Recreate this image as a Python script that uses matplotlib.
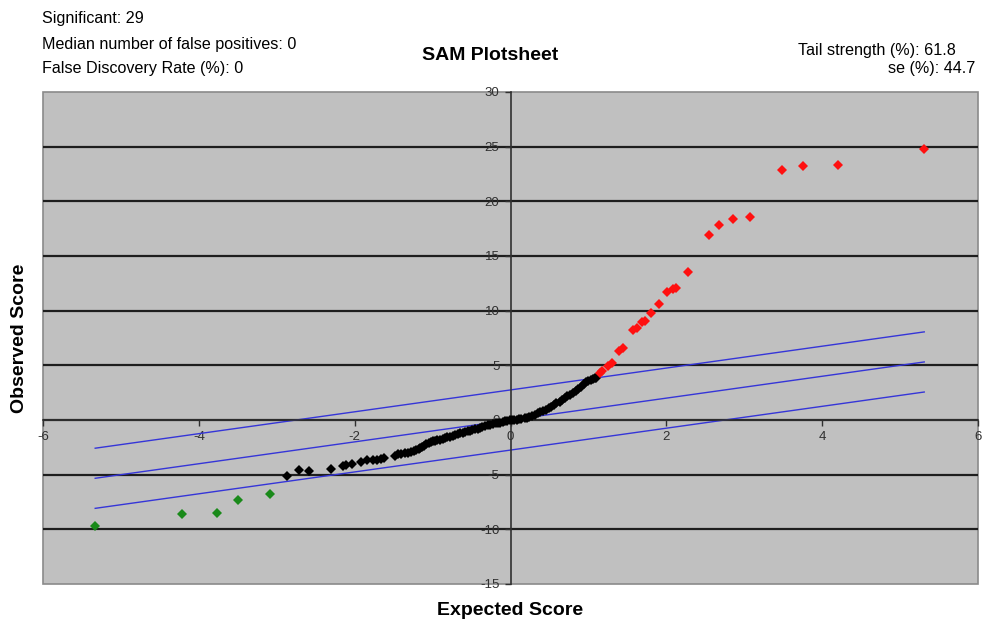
import matplotlib
matplotlib.use("Agg")
import matplotlib.pyplot as plt
from matplotlib.patches import Rectangle

plt.rcParams['font.family'] = ['Liberation Sans', 'DejaVu Sans']
plt.rcParams['axes.unicode_minus'] = False

# non-significant genes (expected, observed)
black_x = [-2.87, -2.71, -2.59, -2.30, -2.15, -2.11, -2.04, -1.92, -1.84, -1.77,
           -1.71, -1.66, -1.62, -1.48, -1.45, -1.41, -1.36, -1.32, -1.28, -1.24,
           -1.21, -1.18, -1.16, -1.13, -1.11, -1.08, -1.05, -1.02, -1.00, -0.97,
           -0.94, -0.91, -0.87, -0.84, -0.81, -0.78, -0.74, -0.71, -0.68, -0.65,
           -0.61, -0.58, -0.55, -0.52, -0.49, -0.46, -0.42, -0.39, -0.36, -0.33,
           -0.29, -0.26, -0.23, -0.19, -0.16, -0.13, -0.10, -0.07, -0.04, -0.01,
           0.02, 0.05, 0.08, 0.11, 0.14, 0.18, 0.21, 0.24, 0.28, 0.31,
           0.35, 0.38, 0.42, 0.45, 0.49, 0.52, 0.56, 0.59, 0.63, 0.66,
           0.70, 0.73, 0.77, 0.80, 0.84, 0.87, 0.91, 0.94, 0.97, 1.00,
           1.03, 1.06, 1.08, 1.10]
black_y = [-5.15, -4.6, -4.65, -4.5, -4.2, -4.1, -4.0, -3.8, -3.7, -3.7,
           -3.65, -3.6, -3.5, -3.25, -3.15, -3.1, -3.05, -3.0, -2.9, -2.8,
           -2.75, -2.65, -2.6, -2.45, -2.35, -2.2, -2.1, -2.0, -1.95, -1.9,
           -1.85, -1.8, -1.75, -1.68, -1.6, -1.52, -1.45, -1.38, -1.3, -1.22,
           -1.15, -1.1, -1.05, -0.97, -0.9, -0.85, -0.8, -0.7, -0.62, -0.56,
           -0.5, -0.44, -0.38, -0.32, -0.27, -0.23, -0.18, -0.13, -0.08, -0.03,
           0.0, 0.02, 0.04, 0.06, 0.1, 0.15, 0.2, 0.26, 0.38, 0.48,
           0.6, 0.7, 0.83, 0.95, 1.08, 1.2, 1.38, 1.52, 1.68, 1.82,
           2.0, 2.15, 2.33, 2.48, 2.65, 2.8, 3.0, 3.25, 3.45, 3.6,
           3.7, 3.78, 3.82, 3.85]

# significant positive genes
red_x = [1.15, 1.18, 1.25, 1.30, 1.39, 1.44, 1.57, 1.62, 1.69, 1.73, 1.80, 1.90,
         2.01, 2.08, 2.12, 2.28, 2.55, 2.68, 2.85, 3.07, 3.48, 3.75, 4.20, 5.31]
red_y = [4.3, 4.5, 4.9, 5.2, 6.3, 6.6, 8.2, 8.4, 9.0, 9.1, 9.8, 10.6,
         11.7, 12.0, 12.1, 13.5, 16.9, 17.8, 18.4, 18.6, 22.9, 23.2, 23.3, 24.8]

# significant negative genes
green_x = [-5.33, -4.22, -3.77, -3.50, -3.09]
green_y = [-9.67, -8.6, -8.5, -7.3, -6.8]

delta = 2.75
line_x = [-5.33, 5.31]

x_ticks = [-6, -4, -2, 0, 2, 4, 6]
y_ticks = [-15, -10, -5, 0, 5, 10, 15, 20, 25, 30]

W, H = 983, 622
fig = plt.figure(figsize=(W / 100, H / 100), dpi=100)
ax = fig.add_axes([43 / W, 1 - 584 / H, (978 - 43) / W, (584 - 92) / H])
ax.set_facecolor('#c0c0c0')
ax.set_xlim(-6, 6)
ax.set_ylim(-15, 30)

for yv in y_ticks[1:-1]:
    ax.axhline(yv, color='#1e1e1e', lw=1.6, zorder=1)

for off in (delta, 0, -delta):
    ax.plot(line_x, [v + off for v in line_x], color='#3535d8', lw=1.0, zorder=2)

ax.plot(black_x, black_y, 'D', color='black', ms=5, mew=0, zorder=3)
ax.plot(red_x, red_y, 'D', color='#ff1010', ms=5, mew=0, zorder=3)
ax.plot(green_x, green_y, 'D', color='#1a8a1a', ms=5, mew=0, zorder=3)

ax.spines['left'].set_position(('data', 0))
ax.spines['bottom'].set_position(('data', 0))
for s in ('left', 'bottom'):
    ax.spines[s].set_color('#303030')
    ax.spines[s].set_linewidth(1.2)
for s in ('top', 'right'):
    ax.spines[s].set_visible(False)
ax.add_patch(Rectangle((0, 0), 1, 1, transform=ax.transAxes, fill=False,
                       edgecolor='#8a8a8a', lw=1.2, clip_on=False, zorder=0.5))

ax.set_xticks(x_ticks)
ax.set_yticks(y_ticks)
ax.tick_params(direction='out', length=4, width=1, colors='#303030',
               labelsize=9.5, pad=4)

ax.set_xlabel('Expected Score', fontsize=14, fontweight='bold')
ax.xaxis.set_label_coords(0.5, -0.036)
ax.set_ylabel('Observed Score', fontsize=14, fontweight='bold')
ax.yaxis.set_label_coords(-0.016, 0.5)

txt = dict(fontsize=11.6, va='center')
fig.text(42 / W, 1 - 18 / H, 'Significant: 29', **txt)
fig.text(42 / W, 1 - 44 / H, 'Median number of false positives: 0', **txt)
fig.text(42 / W, 1 - 69 / H, 'False Discovery Rate (%): 0', **txt)
fig.text(490 / W, 1 - 55 / H, 'SAM Plotsheet', fontsize=14, fontweight='bold',
         ha='center', va='center')
fig.text(956 / W, 1 - 50 / H, 'Tail strength (%): 61.8', ha='right', **txt)
fig.text(975 / W, 1 - 69 / H, 'se (%): 44.7', ha='right', **txt)

fig.savefig('out.png', dpi=100)
